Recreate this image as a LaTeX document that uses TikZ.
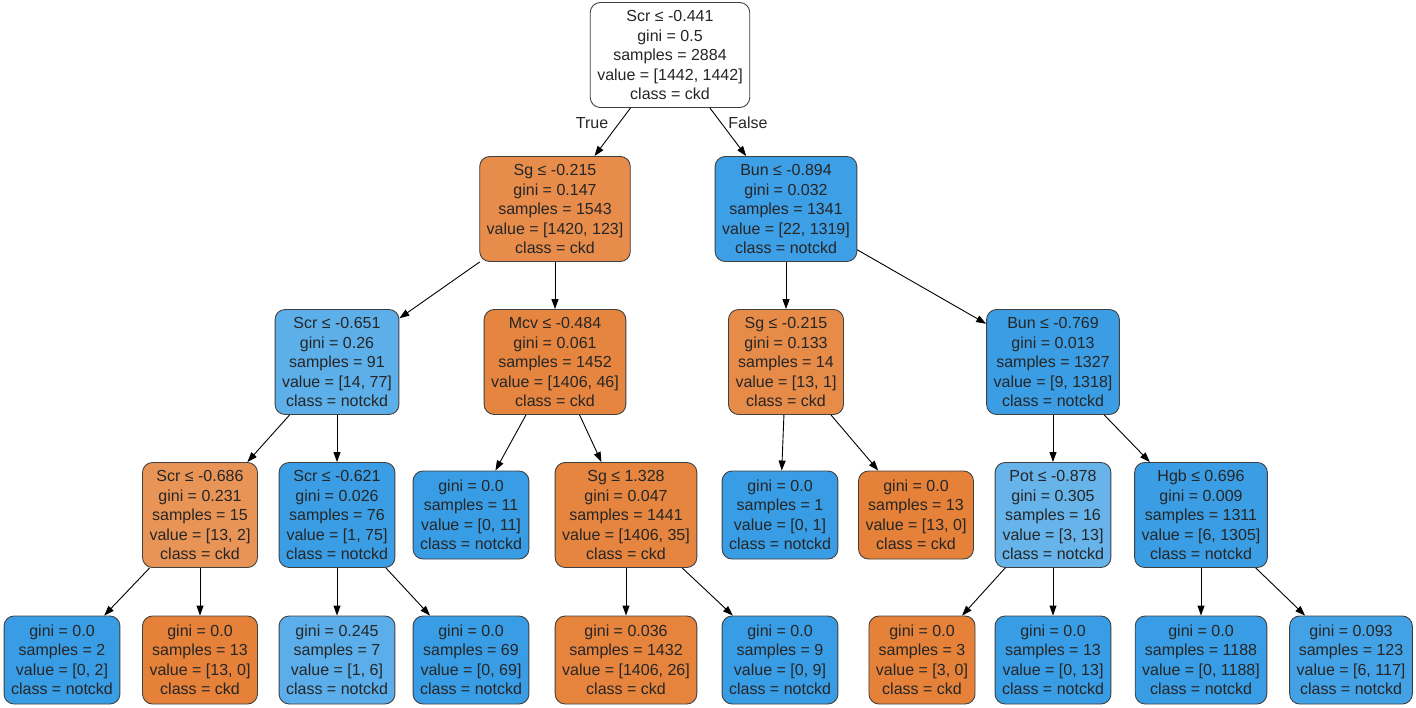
\documentclass[tikz,border=0pt]{standalone}
\usepackage{fontspec}
\setmainfont{Liberation Sans}
\usetikzlibrary{arrows.meta}
\definecolor{ckdorange}{HTML}{E58139}
\definecolor{notckdblue}{HTML}{399DE5}
\definecolor{bordergray}{HTML}{404040}
\tikzset{
    ckd/.style={fill=ckdorange!#1},
    notckd/.style={fill=notckdblue!#1}
}

\begin{document}
\begin{tikzpicture}[
    x=1pt, y=-1pt,
    every node/.style={font=\fontsize{16}{19.5}\selectfont, text=black!85},
    box/.style={draw=bordergray, rounded corners=10pt, align=center, line width=0.9pt, inner xsep=7pt},
    split/.style={box, minimum height=105pt},
    leaf/.style={box, minimum height=88pt},
    arrow/.style={-{Triangle[length=10pt, width=7pt]}, line width=0.9pt, draw=black},
    lbl/.style={font=\fontsize{16}{19.5}\selectfont}
]
    \useasboundingbox (0,0) rectangle (1416,707);

    % level 0 and 1
    \node[split, fill=white] (root) at (670,55) {Scr ≤ -0.441\\gini = 0.5\\samples = 2884\\value = [1442, 1442]\\class = ckd};
    \node[split, ckd=91] (sg) at (555,209) {Sg ≤ -0.215\\gini = 0.147\\samples = 1543\\value = [1420, 123]\\class = ckd};
    \node[split, notckd=98] (bun) at (786,209) {Bun ≤ -0.894\\gini = 0.032\\samples = 1341\\value = [22, 1319]\\class = notckd};

    % level 2
    \node[split, notckd=82] (scr1) at (337,362) {Scr ≤ -0.651\\gini = 0.26\\samples = 91\\value = [14, 77]\\class = notckd};
    \node[split, ckd=97] (mcv) at (555,362) {Mcv ≤ -0.484\\gini = 0.061\\samples = 1452\\value = [1406, 46]\\class = ckd};
    \node[split, ckd=92] (sg2) at (786,362) {Sg ≤ -0.215\\gini = 0.133\\samples = 14\\value = [13, 1]\\class = ckd};
    \node[split, notckd=99] (bun2) at (1053,362) {Bun ≤ -0.769\\gini = 0.013\\samples = 1327\\value = [9, 1318]\\class = notckd};

    % level 3
    \node[split, ckd=85] (scr2) at (200,515) {Scr ≤ -0.686\\gini = 0.231\\samples = 15\\value = [13, 2]\\class = ckd};
    \node[split, notckd=99] (scr3) at (337,515) {Scr ≤ -0.621\\gini = 0.026\\samples = 76\\value = [1, 75]\\class = notckd};
    \node[leaf, notckd=100] (mcvL) at (471,515) {gini = 0.0\\samples = 11\\value = [0, 11]\\class = notckd};
    \node[split, ckd=97] (sg3) at (626,515) {Sg ≤ 1.328\\gini = 0.047\\samples = 1441\\value = [1406, 35]\\class = ckd};
    \node[leaf, notckd=100] (sg2L) at (780,515) {gini = 0.0\\samples = 1\\value = [0, 1]\\class = notckd};
    \node[leaf, ckd=100] (sg2R) at (916,515) {gini = 0.0\\samples = 13\\value = [13, 0]\\class = ckd};
    \node[split, notckd=77] (pot) at (1053,515) {Pot ≤ -0.878\\gini = 0.305\\samples = 16\\value = [3, 13]\\class = notckd};
    \node[split, notckd=99] (hgb) at (1201,515) {Hgb ≤ 0.696\\gini = 0.009\\samples = 1311\\value = [6, 1305]\\class = notckd};

    % level 4
    \node[leaf, notckd=100] (scr2L) at (62,660) {gini = 0.0\\samples = 2\\value = [0, 2]\\class = notckd};
    \node[leaf, ckd=100] (scr2R) at (200,660) {gini = 0.0\\samples = 13\\value = [13, 0]\\class = ckd};
    \node[leaf, notckd=83] (scr3L) at (337,660) {gini = 0.245\\samples = 7\\value = [1, 6]\\class = notckd};
    \node[leaf, notckd=100] (scr3R) at (471,660) {gini = 0.0\\samples = 69\\value = [0, 69]\\class = notckd};
    \node[leaf, ckd=98] (sg3L) at (626,660) {gini = 0.036\\samples = 1432\\value = [1406, 26]\\class = ckd};
    \node[leaf, notckd=100] (sg3R) at (780,660) {gini = 0.0\\samples = 9\\value = [0, 9]\\class = notckd};
    \node[leaf, ckd=100] (potL) at (922,660) {gini = 0.0\\samples = 3\\value = [3, 0]\\class = ckd};
    \node[leaf, notckd=100] (potR) at (1053,660) {gini = 0.0\\samples = 13\\value = [0, 13]\\class = notckd};
    \node[leaf, notckd=100] (hgbL) at (1201,660) {gini = 0.0\\samples = 1188\\value = [0, 1188]\\class = notckd};
    \node[leaf, notckd=95] (hgbR) at (1351,660) {gini = 0.093\\samples = 123\\value = [6, 117]\\class = notckd};

    % edges
    \draw[arrow] (root) -- (sg);
    \draw[arrow] (root) -- (bun);
    \draw[arrow] (sg) -- (scr1);
    \draw[arrow] (sg) -- (mcv);
    \draw[arrow] (bun) -- (sg2);
    \draw[arrow] (bun) -- (bun2);
    \draw[arrow] (scr1) -- (scr2);
    \draw[arrow] (scr1) -- (scr3);
    \draw[arrow] (mcv) -- (mcvL);
    \draw[arrow] (mcv) -- (sg3);
    \draw[arrow] (sg2) -- (sg2L);
    \draw[arrow] (sg2) -- (sg2R);
    \draw[arrow] (bun2) -- (pot);
    \draw[arrow] (bun2) -- (hgb);
    \draw[arrow] (scr2) -- (scr2L);
    \draw[arrow] (scr2) -- (scr2R);
    \draw[arrow] (scr3) -- (scr3L);
    \draw[arrow] (scr3) -- (scr3R);
    \draw[arrow] (sg3) -- (sg3L);
    \draw[arrow] (sg3) -- (sg3R);
    \draw[arrow] (pot) -- (potL);
    \draw[arrow] (pot) -- (potR);
    \draw[arrow] (hgb) -- (hgbL);
    \draw[arrow] (hgb) -- (hgbR);

    \node[lbl] (truelbl) at (592,123) {True};
    \node[lbl] (falselbl) at (748,123) {False};
\end{tikzpicture}
\end{document}
